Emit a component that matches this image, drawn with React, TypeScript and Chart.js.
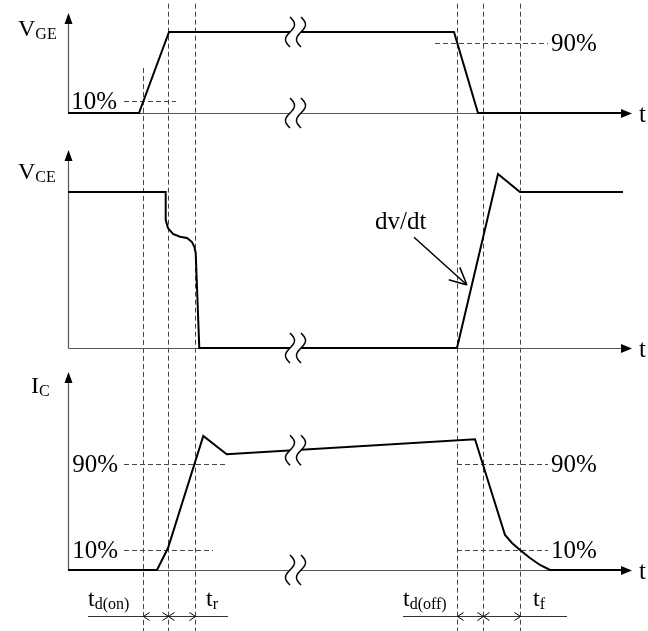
import React, { useEffect, useRef } from "react";
import { Chart, registerables } from "chart.js";
Chart.register(...registerables);

const W = 648;
const H = 631;
const FONT = '"Liberation Serif", "Times New Roman", serif';

// ---- data (time in arbitrary units, 0 = origin of every t axis; levels normalised) ----
const EVENT_TIMES = [75, 100, 127, 389, 415, 452];
const EVENT_START_VGE = [0.556, 1.35, 1.35, 1.35, 1.35, 1.35];

const VGE_T = [0, 71, 101, 386, 410, 554];
const VGE_V = [0, 0, 1, 1, 0, 0];

const VCE_T = [0, 97.7, 97.7, 100, 105, 112, 119, 124, 126.3, 127.7, 131.3, 389, 430, 452, 555];
const VCE_V = [1, 1, 0.821, 0.769, 0.731, 0.713, 0.705, 0.679, 0.649, 0.609, 0, 0, 1.115, 1, 1];

const IC_T = [0, 89, 100, 135.3, 158.7, 407, 437, 444, 452, 462, 472, 482, 554];
const IC_V = [0, 0, 0.183, 1.117, 0.964, 1.089, 0.292, 0.225, 0.167, 0.1, 0.042, 0, 0];

const VGE_REF_LEVELS = [0.148, 0.864];
const VGE_REF_LABELS = ["10%", "90%"];
const VGE_REF_SPANS = [[56, 108], [367, 480]];

const IC_REF_LEVELS = [0.883, 0.167];
const IC_REF_LABELS = ["90%", "10%"];
const IC_REF_SPANS_LEFT = [[56, 159], [56, 145]];
const IC_REF_SPANS_RIGHT = [[389, 480], [389, 480]];

const BREAK_T = 227.5;
const AXIS_END_T = 564;

const TIME_MAIN = ["t", "t", "t", "t"];
const TIME_SUBS = ["d(on)", "r", "d(off)", "f"];
const TIME_LABEL_T = [20, 138, 335, 465];
const TIME_BARS = [[20, 160], [335, 499]];

const AXIS_NAMES = ["V", "V", "I"];
const AXIS_SUBS = ["GE", "CE", "C"];

// ---- layout of the three panels (pixel baseline and pixel height of level 1) ----
const PANELS: Record<string, { base: number; unit: number; tip: number }> = {
  yGE: { base: 113, unit: 81, tip: 1.235 },
  yCE: { base: 348, unit: 156, tip: 1.269 },
  yC: { base: 570, unit: 120, tip: 1.65 },
};

function scaleFor(id: string) {
  const p = PANELS[id];
  return { type: "linear" as const, display: false, min: -(H - p.base) / p.unit, max: p.base / p.unit };
}

function pts(t: number[], v: number[]) {
  return t.map((x, i) => ({ x, y: v[i] }));
}

function interp(t: number[], v: number[], x: number) {
  for (let i = 0; i < t.length - 1; i++) {
    if (x >= t[i] && x <= t[i + 1]) {
      const f = t[i + 1] === t[i] ? 0 : (x - t[i]) / (t[i + 1] - t[i]);
      return v[i] + f * (v[i + 1] - v[i]);
    }
  }
  return v[v.length - 1];
}

function drawSub(ctx: CanvasRenderingContext2D, main: string, sub: string, x: number, y: number, ms: number, ss: number, drop: number) {
  ctx.textAlign = "left";
  ctx.textBaseline = "alphabetic";
  ctx.font = `${ms}px ${FONT}`;
  ctx.fillText(main, x, y);
  const w = ctx.measureText(main).width;
  ctx.font = `${ss}px ${FONT}`;
  ctx.fillText(sub, x + w, y + drop);
}

const diagramPlugin = {
  id: "diagram",
  beforeDatasetsDraw(chart: any) {
    const ctx: CanvasRenderingContext2D = chart.ctx;
    const xs = chart.scales.x;
    const px = (t: number) => xs.getPixelForValue(t);
    const py = (id: string, v: number) => chart.scales[id].getPixelForValue(v);
    ctx.save();

    // dashed event lines
    ctx.strokeStyle = "#444";
    ctx.lineWidth = 1;
    ctx.setLineDash([5, 3]);
    EVENT_TIMES.forEach((t, i) => {
      const x = Math.round(px(t)) + 0.5;
      ctx.beginPath();
      ctx.moveTo(x, py("yGE", EVENT_START_VGE[i]));
      ctx.lineTo(x, chart.height);
      ctx.stroke();
    });
    // horizontal reference lines
    const hline = (id: string, v: number, a: number, b: number) => {
      const y = Math.round(py(id, v)) + 0.5;
      ctx.beginPath();
      ctx.moveTo(px(a), y);
      ctx.lineTo(px(b), y);
      ctx.stroke();
    };
    VGE_REF_LEVELS.forEach((v, i) => hline("yGE", v, VGE_REF_SPANS[i][0], VGE_REF_SPANS[i][1]));
    IC_REF_LEVELS.forEach((v, i) => {
      hline("yC", v, IC_REF_SPANS_LEFT[i][0], IC_REF_SPANS_LEFT[i][1]);
      hline("yC", v, IC_REF_SPANS_RIGHT[i][0], IC_REF_SPANS_RIGHT[i][1]);
    });
    ctx.setLineDash([]);

    // axes
    const x0 = Math.round(px(0)) + 0.5;
    const xe = px(AXIS_END_T);
    Object.keys(PANELS).forEach((id) => {
      const yb = Math.round(py(id, 0)) + 0.5;
      const yt = py(id, PANELS[id].tip);
      ctx.strokeStyle = "#555";
      ctx.lineWidth = 1.2;
      ctx.beginPath();
      ctx.moveTo(x0, yb);
      ctx.lineTo(x0, yt + 8);
      ctx.moveTo(x0, yb);
      ctx.lineTo(xe - 9, yb);
      ctx.stroke();
      ctx.fillStyle = "#000";
      ctx.beginPath();
      ctx.moveTo(x0, yt);
      ctx.lineTo(x0 - 4, yt + 11);
      ctx.lineTo(x0 + 4, yt + 11);
      ctx.closePath();
      ctx.fill();
      ctx.beginPath();
      ctx.moveTo(xe, yb);
      ctx.lineTo(xe - 11, yb - 4.5);
      ctx.lineTo(xe - 11, yb + 4.5);
      ctx.closePath();
      ctx.fill();
      ctx.font = `25px ${FONT}`;
      ctx.textAlign = "left";
      ctx.textBaseline = "alphabetic";
      ctx.fillText("t", xe + 7, yb + 8);
    });
    ctx.restore();
  },
  afterDatasetsDraw(chart: any) {
    const ctx: CanvasRenderingContext2D = chart.ctx;
    const xs = chart.scales.x;
    const px = (t: number) => xs.getPixelForValue(t);
    const py = (id: string, v: number) => chart.scales[id].getPixelForValue(v);
    ctx.save();

    // break marks
    const breaks: [string, number][] = [
      ["yGE", interp(VGE_T, VGE_V, BREAK_T)],
      ["yGE", 0],
      ["yCE", interp(VCE_T, VCE_V, BREAK_T)],
      ["yC", interp(IC_T, IC_V, BREAK_T)],
      ["yC", 0],
    ];
    const bx = px(BREAK_T);
    breaks.forEach(([id, v]) => {
      const cy = py(id, v);
      ctx.fillStyle = "#fff";
      ctx.fillRect(bx - 5.5, cy - 3, 11, 6);
      ctx.strokeStyle = "#000";
      ctx.lineWidth = 1.5;
      [bx - 5.5, bx + 5.5].forEach((c) => {
        ctx.beginPath();
        for (let k = 0; k <= 30; k++) {
          const yy = cy - 15 + (30 * k) / 30;
          const xx = c + 4.5 * Math.sin((2 * Math.PI * k) / 30);
          if (k === 0) ctx.moveTo(xx, yy);
          else ctx.lineTo(xx, yy);
        }
        ctx.stroke();
      });
    });

    // axis names
    ctx.fillStyle = "#000";
    drawSub(ctx, AXIS_NAMES[0], AXIS_SUBS[0], px(-50), py("yGE", 0.951), 24, 16, 3);
    drawSub(ctx, AXIS_NAMES[1], AXIS_SUBS[1], px(-50), py("yCE", 1.083), 24, 16, 3);
    drawSub(ctx, AXIS_NAMES[2], AXIS_SUBS[2], px(-37), py("yC", 1.475), 24, 16, 3);

    // percentage labels
    ctx.font = `25px ${FONT}`;
    ctx.textBaseline = "middle";
    ctx.textAlign = "right";
    ctx.fillText(VGE_REF_LABELS[0], px(49), py("yGE", VGE_REF_LEVELS[0]) + 1);
    ctx.textAlign = "left";
    ctx.fillText(VGE_REF_LABELS[1], px(483), py("yGE", VGE_REF_LEVELS[1]) + 1);
    IC_REF_LEVELS.forEach((v, i) => {
      ctx.textAlign = "right";
      ctx.fillText(IC_REF_LABELS[i], px(50), py("yC", v) + 1);
      ctx.textAlign = "left";
      ctx.fillText(IC_REF_LABELS[i], px(483), py("yC", v) + 1);
    });

    // dv/dt annotation
    ctx.textBaseline = "alphabetic";
    ctx.textAlign = "left";
    ctx.fillText("dv/dt", px(307), py("yCE", 0.763));
    const ax1 = px(346), ay1 = py("yCE", 0.71), ax2 = px(399), ay2 = py("yCE", 0.404);
    ctx.strokeStyle = "#000";
    ctx.lineWidth = 1.5;
    ctx.beginPath();
    ctx.moveTo(ax1, ay1);
    ctx.lineTo(ax2, ay2);
    const ang = Math.atan2(ay2 - ay1, ax2 - ax1);
    [0.45, -0.45].forEach((d) => {
      ctx.moveTo(ax2, ay2);
      ctx.lineTo(ax2 - 19 * Math.cos(ang + d), ay2 - 19 * Math.sin(ang + d));
    });
    ctx.stroke();

    // time interval bars
    const yBar = Math.round(py("yC", -0.383)) + 0.5;
    ctx.strokeStyle = "#333";
    ctx.lineWidth = 1;
    ctx.beginPath();
    TIME_BARS.forEach(([a, b]) => {
      ctx.moveTo(px(a), yBar);
      ctx.lineTo(px(b), yBar);
    });
    ctx.stroke();
    ctx.strokeStyle = "#000";
    ctx.beginPath();
    EVENT_TIMES.forEach((t, i) => {
      const x = Math.round(px(t)) + 0.5;
      const pos = i % 3;
      if (pos === 0 || pos === 1) {
        ctx.moveTo(x + 6, yBar - 4);
        ctx.lineTo(x, yBar);
        ctx.lineTo(x + 6, yBar + 4);
      }
      if (pos === 1 || pos === 2) {
        ctx.moveTo(x - 6, yBar - 4);
        ctx.lineTo(x, yBar);
        ctx.lineTo(x - 6, yBar + 4);
      }
    });
    ctx.stroke();
    ctx.fillStyle = "#000";
    TIME_MAIN.forEach((m, i) => {
      drawSub(ctx, m, TIME_SUBS[i], px(TIME_LABEL_T[i]), py("yC", -0.3), 24, 16, 3);
    });
    ctx.restore();
  },
};

export default function App() {
  const ref = useRef<HTMLCanvasElement>(null);
  useEffect(() => {
    const line = { borderColor: "#000", borderWidth: 2, pointRadius: 0, fill: false, tension: 0 };
    const chart = new Chart(ref.current as HTMLCanvasElement, {
      type: "line",
      data: {
        datasets: [
          { ...line, label: "VGE", data: pts(VGE_T, VGE_V), yAxisID: "yGE" },
          { ...line, label: "VCE", data: pts(VCE_T, VCE_V), yAxisID: "yCE" },
          { ...line, label: "IC", data: pts(IC_T, IC_V), yAxisID: "yC" },
        ] as any,
      },
      options: {
        animation: false,
        responsive: false,
        events: [],
        layout: { padding: 0 },
        plugins: { legend: { display: false }, tooltip: { enabled: false } },
        scales: {
          x: { type: "linear", display: false, min: -68, max: 580 },
          yGE: scaleFor("yGE"),
          yCE: scaleFor("yCE"),
          yC: scaleFor("yC"),
        } as any,
      },
      plugins: [diagramPlugin],
    });
    return () => chart.destroy();
  }, []);
  return (
    <div style={{ position: "fixed", left: 0, top: 0, width: W, height: H, background: "#fff" }}>
      <canvas ref={ref} width={W} height={H} style={{ display: "block", width: W, height: H }} />
    </div>
  );
}
